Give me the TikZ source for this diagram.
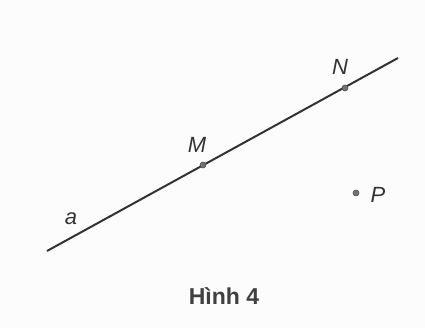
\documentclass[tikz,border=0pt]{standalone}
\usepackage{fontspec}
\setmainfont{Liberation Sans}
\begin{document}
\begin{tikzpicture}[x=1pt,y=-1pt,
  lbl/.style={font=\fontsize{22}{24}\selectfont\itshape, text=black!80, inner sep=0pt},
  pt/.style={circle, fill=black!55, draw=black!70, line width=0.6pt, minimum size=6pt, inner sep=0pt},
  ln/.style={line width=2pt, draw=black!80}]
\fill[white!99!black] (0,0) rectangle (425,328);
\useasboundingbox (0,0) rectangle (425,328);
\coordinate (A) at (47,251);
\coordinate (B) at (398,58);
\draw[ln] (A) -- (B);
\node[pt] (M) at (203,165) {};
\node[pt] (N) at (345,88) {};
\node[pt] (P) at (356,193) {};
\node[lbl] (Ml) at (197,145) {M};
\node[lbl] (Nl) at (340,67) {N};
\node[lbl] (Pl) at (378,195) {P};
\node[lbl] (al) at (71,219) {a};
\node[font=\fontsize{23}{26}\selectfont\bfseries, text=black!75, inner sep=0pt] (cap) at (224,296) {Hình 4};
\end{tikzpicture}
\end{document}
